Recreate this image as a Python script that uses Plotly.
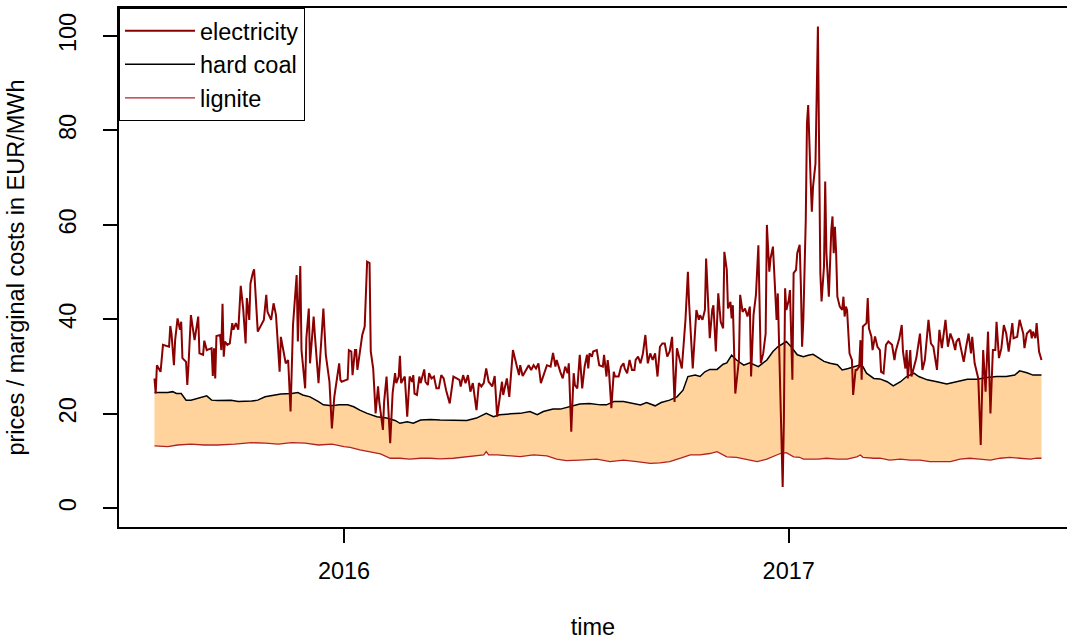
import pandas as pd
import plotly.graph_objects as go

# day index counted from the first observation
START = "2015-07-29"

elec_day = [0, 1, 2, 5, 7, 12, 13, 14, 16, 17, 19, 21, 22, 23, 26, 27, 28, 30, 33, 35, 36, 37, 40, 41, 43,
            47, 48, 49, 50, 51, 54, 55, 56, 57, 58, 60, 62, 64, 65, 67, 69, 71, 73, 75, 76, 78, 79, 81, 82,
            85, 88, 90, 92, 93, 96, 98, 100, 103, 104, 107, 108, 110, 112, 114, 117, 118, 120, 121, 124,
            125, 127, 128, 131, 132, 135, 139, 141, 144, 146, 148, 152, 153, 154, 159, 160, 162, 163, 165,
            166, 167,
            170, 171, 173, 174, 175, 177, 178, 180, 182, 184, 185, 188, 189, 191, 194, 196, 198, 199, 201,
            202, 203, 205, 206, 208, 210, 212, 213, 214, 216, 218, 219, 222, 223, 225, 226, 228, 230, 232,
            234, 236, 238, 240, 243, 246, 249, 251, 252, 254, 256, 258, 260, 262, 265, 267, 269, 271, 273,
            275, 278, 280, 282, 284, 286, 287, 290, 292, 294, 295, 298, 300, 301, 303, 305, 308, 310, 312,
            314, 316, 318, 320, 323, 326, 328, 330, 331, 334, 336, 338, 340, 341, 343, 345, 346, 348, 350,
            352, 354, 356, 357, 358, 360, 361, 364, 366, 369, 370, 372, 373, 374, 376, 378, 379, 382, 384,
            386, 387, 389, 391, 393, 395, 396, 398, 400, 402, 404, 406, 408, 410, 412, 414, 416, 418, 420,
            422, 424, 426, 428, 430, 433, 434, 437, 439, 440, 441, 443, 446, 448, 449, 451, 453, 454, 457,
            459, 460, 462, 464, 466, 468, 469, 471, 472, 474, 475, 476, 478, 481, 482, 484, 486, 488, 490,
            491, 493, 495, 497, 499, 501, 503, 504, 506, 507, 509,
            511, 512, 513, 515, 517, 518, 519, 520, 522, 523, 524, 525, 526, 528, 529, 531, 532, 533, 534,
            536, 537, 538, 540, 541, 542, 544, 546, 547, 548, 549, 551, 552, 553, 555, 556, 557, 558, 559,
            560, 561, 562, 564, 566, 567, 568, 569, 570, 572, 574, 575, 577, 578, 580, 581, 582, 583, 586,
            587, 588, 590, 591, 593, 595,
            597, 598, 600, 602, 604, 607, 609, 610, 613, 615, 616, 618, 619, 620, 622, 623, 625, 627, 630,
            632, 634, 637, 639, 641, 644, 646, 648, 651, 653, 655, 657, 659, 660, 662, 664, 666, 668, 670,
            672, 673, 675, 678, 680, 682, 684, 686, 688, 690, 692, 693, 695, 697, 699, 701, 703, 706, 707,
            710, 712, 715, 716, 718, 721, 722, 723, 725, 726, 728, 730]

elec_val = [27.5, 24.3, 30.3, 28.9, 34.6, 34.2, 38.6, 37.0, 30.3, 35.6, 40.2, 37.8, 39.5, 31.8, 31.0, 26.1,
            30.3, 40.9, 35.6, 39.5, 40.6, 32.8, 32.5, 35.5, 33.5, 33.9, 28.0, 33.9, 27.5, 36.5, 36.7, 33.5,
            43.3, 32.1, 35.3, 34.6, 34.9, 39.2, 37.8, 39.2, 37.8, 47.1, 42.3, 34.9, 44.5, 39.9, 47.6, 49.9,
            50.6, 37.4, 38.8, 39.9, 45.2, 41.6, 39.9, 43.4, 40.9, 28.9, 36.3, 31.8, 30.7, 31.4, 20.5, 38.8,
            49.4, 35.3, 51.3, 33.5, 25.4, 36.0, 42.3, 30.7, 40.6, 36.7, 26.5, 42.3, 32.5, 26.8, 16.9, 23.6,
            30.7, 27.2, 26.8, 27.3, 33.5, 33.2, 28.2, 33.5, 33.5, 29.3,
            35.3, 36.7, 38.5, 48.3, 52.2, 51.9, 33.2, 29.6, 20.1, 25.8, 22.6, 16.6, 22.6, 27.9, 13.8, 24.4,
            28.6, 26.5, 27.9, 32.3, 26.5, 27.5, 27.9, 19.4, 27.9, 26.8, 28.2, 24.3, 24.0, 27.9, 26.5, 29.4,
            26.8, 26.1, 28.6, 27.5, 27.9, 25.4, 25.4, 28.2, 27.5, 25.0, 22.2, 27.9, 27.5, 27.2, 25.8, 28.2,
            26.5, 28.2, 24.7, 26.5, 20.8, 26.5, 25.8, 26.5, 29.6, 26.8, 25.8, 28.0, 19.4, 23.6, 26.8, 24.0,
            27.5, 23.6, 30.3, 33.5, 30.3, 28.2, 30.3, 28.0, 28.9, 30.3, 29.3, 30.3, 29.6, 30.7, 26.5, 28.2,
            30.3, 30.0, 32.9, 30.0, 31.4, 28.9, 27.5, 30.0, 28.6, 30.7, 16.2, 28.6, 26.1, 25.4, 32.5,
            25.4, 30.0, 32.5, 29.6, 32.8, 32.1, 33.2, 33.5, 30.3, 30.0, 32.5, 27.9, 31.4, 29.2, 21.2, 28.9,
            27.9, 27.9, 30.0, 30.7, 29.6, 28.6, 31.4, 29.3, 29.3, 31.4, 32.1, 30.7, 32.8, 36.7, 30.7, 32.8,
            31.4, 32.8, 27.9, 34.2, 34.9, 34.9, 32.1, 33.2, 36.3, 22.5, 33.9, 30.7, 29.6, 39.9, 50.1, 43.4,
            38.5, 29.6, 42.0, 39.9, 40.9, 39.9, 42.0, 52.9, 36.0, 42.0, 43.0, 33.2, 45.5, 39.5, 38.1, 54.3,
            50.5, 42.3, 43.7, 40.2, 43.0, 24.3, 31.4, 45.2, 41.6, 42.3, 40.6, 42.7, 27.9, 40.9, 45.2, 55.7,
            30.7, 32.8, 37.0, 60.0, 50.1, 52.9, 55.4,
            45.5, 39.9, 45.5, 25.8, 4.5, 18.7, 46.6, 42.0, 44.1, 46.2, 37.1, 27.2, 49.8, 50.5, 54.0, 55.8,
            46.9, 34.2, 39.9, 61.0, 81.5, 85.4, 69.5, 62.8, 68.1, 73.0, 102.0, 73.1, 49.8, 43.8, 51.2, 69.2,
            54.0, 44.8, 52.6, 58.9, 61.8, 54.0, 59.6, 54.0, 44.8, 42.7, 42.0, 44.8, 40.6, 42.7, 42.0, 32.8,
            31.4, 24.0, 29.3, 29.3, 30.0, 35.6, 27.2, 38.5, 39.2, 44.5, 38.1, 36.4, 33.5, 36.4, 34.2,
            33.5, 28.9, 28.6, 34.6, 35.3, 34.6, 31.4, 33.2, 36.0, 38.8, 33.2, 29.6, 33.5, 27.5, 33.5, 27.9,
            29.6, 31.8, 37.0, 29.3, 31.4, 39.9, 34.9, 34.2, 29.3, 37.8, 33.9, 39.9, 34.2, 37.0, 35.6, 33.5,
            35.3, 36.0, 33.5, 31.0, 34.2, 37.0, 32.8, 36.3, 30.7, 27.5, 13.4, 33.5, 24.7, 37.4, 20.1, 33.5,
            33.5, 39.5, 31.8, 33.9, 38.8, 37.0, 33.2, 39.2, 36.0, 36.3, 39.9, 37.0, 33.9, 37.0, 37.8, 36.0,
            37.4, 36.0, 39.2, 33.2, 31.4]

coal_day = [0, 11, 15, 18, 22, 26, 30, 36, 40, 43, 47, 52, 63, 69, 80, 85, 91, 99, 104, 113, 118, 122, 128,
            135, 139, 146, 152, 159, 164, 169, 175, 183, 191, 198, 202, 208, 213, 219, 227, 235, 246, 257,
            265, 271, 273, 279, 284, 293, 301, 309, 315, 320, 328, 334, 342, 350, 358, 367, 372, 378, 386,
            393, 400, 405, 412, 417, 424, 430, 435, 439, 445, 449, 453, 457, 463, 468, 471, 475, 479, 485,
            490, 497, 504, 509, 513, 520, 524, 529, 534, 538, 542, 545, 551, 556, 562, 566, 571, 581, 583,
            586, 592, 597, 603, 608, 614, 619, 625, 629, 636, 644, 652, 660, 669, 677, 685, 693, 701, 708,
            712, 718, 723, 730]
coal_val = [24.5, 24.5, 24.7, 24.3, 24.3, 22.9, 22.9, 23.3, 23.6, 23.8, 22.9, 22.8, 22.9, 22.6, 22.7, 22.9,
            23.6, 23.9, 24.2, 24.3, 24.5, 24.0, 23.6, 22.6, 21.9, 21.7, 21.9, 21.9, 21.5, 20.8, 20.1, 19.4,
            19.1, 18.6, 18.0, 18.3, 18.0, 18.7, 18.8, 18.7, 18.7, 18.6, 19.1, 19.8, 20.1, 19.4, 19.8, 20.0,
            20.1, 20.5, 19.8, 20.5, 21.0, 21.0, 21.5, 22.1, 22.2, 21.9, 21.9, 22.6, 22.6, 22.2, 21.9, 22.4,
            21.7, 22.4, 22.9, 23.6, 25.0, 27.9, 28.2, 27.9, 28.9, 29.4, 29.4, 30.5, 30.8, 32.4, 31.4, 30.3,
            30.8, 30.0, 31.4, 33.2, 34.2, 35.3, 34.2, 32.5, 32.1, 32.4, 32.6, 32.1, 31.1, 30.7, 30.4, 29.3,
            29.6, 30.4, 30.0, 28.6, 27.5, 27.4, 26.8, 25.9, 26.8, 27.9, 28.6, 27.9, 27.2, 26.8, 26.3, 26.8,
            27.3, 27.3, 27.7, 27.9, 27.9, 28.2, 29.1, 28.7, 28.2, 28.2]

lign_day = [0, 11, 19, 30, 41, 52, 66, 80, 91, 102, 113, 124, 135, 146, 156, 161, 169, 177, 186, 194, 202,
            210, 219, 227, 235, 246, 254, 262, 271, 273, 275, 282, 290, 301, 312, 323, 331, 339, 350, 364,
            375, 386, 397, 408, 416, 424, 433, 441, 449, 457, 463, 471, 479, 487, 496, 504, 509, 515, 520,
            526, 531, 534, 540, 546, 553, 562, 570, 578, 581, 583, 592, 597, 605, 614, 622, 630, 638, 647,
            655, 663, 671, 679, 688, 696, 704, 712, 721, 726, 730]
lign_val = [13.2, 13.05, 13.4, 13.6, 13.4, 13.4, 13.6, 13.9, 13.8, 13.6, 13.9, 13.8, 13.4, 13.6, 13.05,
            12.9, 12.35, 12.0, 11.5, 10.6, 10.6, 10.4, 10.6, 10.6, 10.45, 10.6, 10.8, 10.95, 11.3, 12.0,
            11.3, 11.3, 11.1, 10.95, 11.3, 11.1, 10.4, 10.1, 10.2, 10.4, 9.9, 10.2, 9.9, 9.5, 9.6, 9.9,
            10.6, 11.3, 11.3, 11.6, 12.0, 10.9, 10.8, 10.4, 9.9, 10.4, 10.9, 11.6, 11.8, 10.9, 10.8, 10.4,
            10.4, 10.4, 10.6, 10.4, 10.4, 10.9, 11.3, 10.8, 10.6, 10.6, 10.2, 10.4, 10.2, 10.2, 9.9, 9.9,
            9.9, 10.4, 10.6, 10.4, 10.2, 10.6, 10.8, 10.6, 10.4, 10.6, 10.6]

y_ticks = [0, 20, 40, 60, 80, 100]
x_ticks = ["2016-01-01", "2017-01-01"]
x_tick_labels = ["2016", "2017"]

start = pd.Timestamp(START)
elec_x = start + pd.to_timedelta(elec_day, unit="D")
coal_x = start + pd.to_timedelta(coal_day, unit="D")
lign_x = start + pd.to_timedelta(lign_day, unit="D")

FONT = "Liberation Sans, Arial, Helvetica, sans-serif"
FS = 23.5

fig = go.Figure()
# band between lignite and hard coal marginal costs
fig.add_trace(go.Scatter(
    x=list(coal_x) + list(lign_x[::-1]), y=coal_val + lign_val[::-1],
    fill="toself", fillcolor="#FFD39B", line=dict(width=0), mode="lines",
    showlegend=False, hoverinfo="skip"))
fig.add_trace(go.Scatter(x=lign_x, y=lign_val, mode="lines", name="lignite",
                         line=dict(color="#B22222", width=1.3), legendrank=3))
fig.add_trace(go.Scatter(x=coal_x, y=coal_val, mode="lines", name="hard coal",
                         line=dict(color="black", width=1.5), legendrank=2))
fig.add_trace(go.Scatter(x=elec_x, y=elec_val, mode="lines", name="electricity",
                         line=dict(color="#8B0000", width=2), legendrank=1))

fig.update_layout(
    width=1067, height=640,
    margin=dict(l=119, r=0, t=8, b=113),
    paper_bgcolor="white", plot_bgcolor="white",
    font=dict(family=FONT, size=FS, color="black"),
    legend=dict(x=0, y=1, xanchor="left", yanchor="top",
                bordercolor="black", borderwidth=1, bgcolor="white",
                font=dict(family=FONT, size=FS), tracegroupgap=0,
                itemwidth=70),
    xaxis=dict(
        range=["2015-06-29 19:12", "2017-08-18 00:00"],
        tickvals=x_ticks, ticktext=x_tick_labels,
        showgrid=False, zeroline=False,
        showline=True, mirror=True, linecolor="black", linewidth=1.5,
        ticks="outside", ticklen=14, tickwidth=1.5, tickcolor="black",
        ticklabelstandoff=8,
        title=dict(text="time", standoff=36, font=dict(size=FS)),
    ),
    yaxis=dict(
        range=[-3.96, 105.93],
        tickvals=y_ticks, tickangle=-90,
        showgrid=False, zeroline=False,
        showline=True, mirror=False, linecolor="black", linewidth=1.5,
        ticks="outside", ticklen=14, tickwidth=1.5, tickcolor="black",
        ticklabelstandoff=18,
        title=dict(text="prices / marginal costs in EUR/MWh", standoff=24, font=dict(size=FS)),
    ),
)

fig.write_html("out.html",
               config={"displayModeBar": False},
               post_script="document.body.style.margin='0px';document.body.style.overflow='hidden';")
